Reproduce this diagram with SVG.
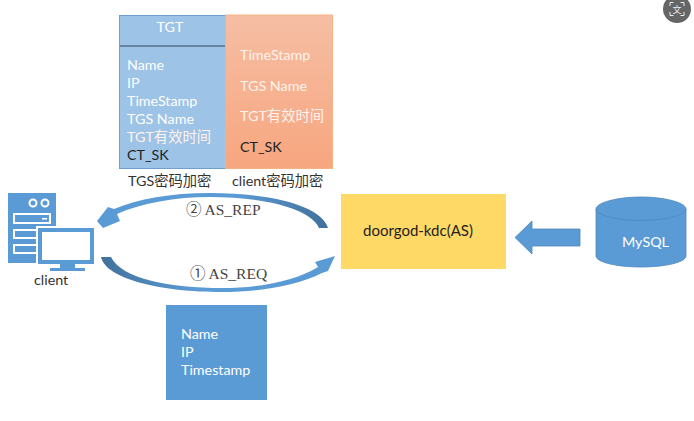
<svg xmlns="http://www.w3.org/2000/svg" width="694" height="421" viewBox="0 0 694 421">
<defs>
<linearGradient id="sal" x1="0" y1="0" x2="0" y2="1"><stop offset="0" stop-color="#f6bea4"/><stop offset="1" stop-color="#f7a67f"/></linearGradient>
<linearGradient id="arcT" x1="0" y1="0" x2="1" y2="0"><stop offset="0" stop-color="#5b9bd5"/><stop offset="0.6" stop-color="#5b9bd5"/><stop offset="1" stop-color="#41719c"/></linearGradient>
<linearGradient id="arcB" x1="0" y1="0" x2="1" y2="0"><stop offset="0" stop-color="#41719c"/><stop offset="0.4" stop-color="#5b9bd5"/><stop offset="1" stop-color="#5b9bd5"/></linearGradient>
</defs>
<style>
text{font-family:Lato,"Noto Sans CJK SC",sans-serif;font-size:14.3px}
.w{fill:#fff}
.p{fill:#fff3ec}
.d{fill:#222}
.l{fill:#333}
.s{font-family:"Liberation Serif","Noto Sans CJK SC",serif;font-size:15.5px;fill:#444}
.b{fill:#5b9bd5}
.bs{fill:#5b9bd5;stroke:#4f88bc;stroke-width:.8}
.r{fill:none;stroke:#fff;stroke-width:2}
</style>
<rect width="694" height="421" fill="#fff"/>

<g id="tgt-box">
<rect x="119.500" y="15.500" width="106" height="153" fill="#9dc3e6" stroke="#6f9fcf" stroke-width="1"/>
<line x1="120" y1="46" x2="225" y2="46" stroke="#33475a" stroke-width="1"/>
<text class="w" x="170" y="32" text-anchor="middle">TGT</text>
<text class="w" x="127" y="70">Name</text>
<text class="w" x="127" y="88">IP</text>
<text class="w" x="127" y="106">TimeStamp</text>
<text class="w" x="127" y="124">TGS Name</text>
<text class="p" x="127" y="142">TGT有效时间</text>
<text class="d" x="127" y="160">CT_SK</text>
<text class="l" x="128" y="186">TGS密码加密</text>
</g>

<g id="client-encrypted-box">
<rect x="225.500" y="15" width="107" height="153.500" fill="url(#sal)" stroke="#f4b183" stroke-width="1"/>
<text class="p" x="240" y="60">TimeStamp</text>
<text class="p" x="240" y="91">TGS Name</text>
<text class="p" x="240" y="121">TGT有效时间</text>
<text class="d" x="240" y="152">CT_SK</text>
<text class="l" x="232" y="186">client密码加密</text>
</g>

<g id="client">
<rect x="8" y="193" width="48" height="70" class="b"/>
<circle cx="33" cy="203" r="3.500" fill="none" stroke="#fff" stroke-width="2"/>
<circle cx="45" cy="203" r="3.500" fill="none" stroke="#fff" stroke-width="2"/>
<rect x="14" y="214" width="36" height="9" class="r"/>
<rect x="42" y="218" width="5" height="1.500" fill="#fff"/>
<rect x="14" y="230" width="36" height="8" class="r"/>
<rect x="14" y="245" width="36" height="8" class="r"/>
<rect x="36" y="226" width="60" height="40" fill="#fff"/>
<rect x="40" y="230" width="52" height="32" fill="#fff" stroke="#5b9bd5" stroke-width="4"/>
<path d="M60 264h15v4h10v3H50v-3h10z" class="b"/>
<text class="l" x="34" y="285">client</text>
</g>

<g id="request-box">
<rect x="166" y="305" width="101" height="95" class="b"/>
<text class="w" x="181" y="339">Name</text>
<text class="w" x="181" y="357">IP</text>
<text class="w" x="181" y="375">Timestamp</text>
</g>

<g id="kdc">
<rect x="341" y="194" width="165" height="75" fill="#ffd966"/>
<text x="363" y="236" fill="#222" style="font-size:15px">doorgod-kdc(AS)</text>
</g>

<g id="mysql">
<path d="M596 209c0-6 20-12 45-12s45 6 45 12v47c0 6-20 11-45 11s-45-5-45-11z" class="bs"/>
<path d="M596 209c0 6 20 11.500 45 11.500s45-5.500 45-11.500" fill="none" stroke="#4f88bc" stroke-width=".8"/>
<text class="w" x="622" y="247">MySQL</text>
</g>

<g id="connectors">
<path d="M580 229H532V221L515 237.500 532 254V246H580z" class="bs"/>
<path d="M328 228C322 206 272 193 210 193C170 193 138 199 114 209L108 207L97 221L103 228L120 221L117 214C142 203 175 197 210 197C262 197 310 208 319 228z" fill="url(#arcT)"/>
<path d="M101 257C106 279 160 292 222 292C262 292 298 285 322 273L328 271L335 256L315 262L318 267C297 280 262 288 222 288C170 288 122 279 111 257z" fill="url(#arcB)"/>
</g>

<g id="as-rep-label"><text class="s" x="186" y="215">② AS_REP</text></g>
<g id="as-req-label"><text class="s" x="190" y="279">① AS_REQ</text></g>

<g id="translate-badge">
<circle cx="677" cy="9" r="14" fill="#666"/>
<path d="M670 6V2.500H673.500M680.500 2.500H684V6M684 12V15.500H680.500M673.500 15.500H670V12" fill="none" stroke="#eee" stroke-width="1"/>
<text x="677" y="13" text-anchor="middle" fill="#eee" style="font-size:9px;font-family:'Noto Sans CJK SC',sans-serif">文</text>
</g>
</svg>
